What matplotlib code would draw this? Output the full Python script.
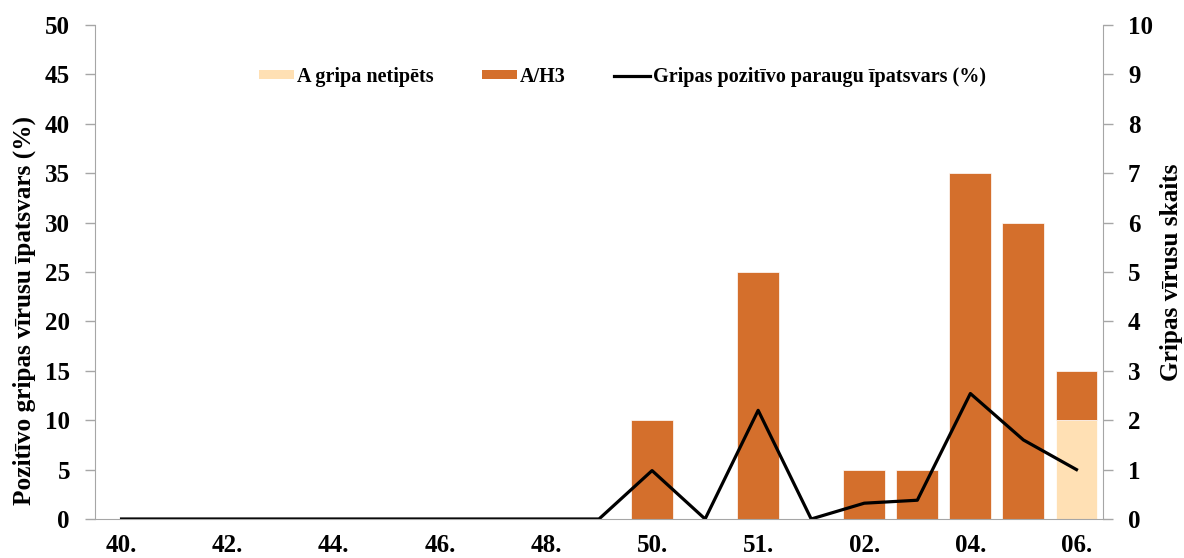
import matplotlib
matplotlib.use("Agg")
import matplotlib.pyplot as plt
import numpy as np
from matplotlib.patches import Patch
from matplotlib.lines import Line2D

weeks = ["40.", "41.", "42.", "43.", "44.", "45.", "46.", "47.", "48.", "49.",
         "50.", "50.", "51.", "01.", "02.", "03.", "04.", "05.", "06."]
a_untyped = [0, 0, 0, 0, 0, 0, 0, 0, 0, 0, 0, 0, 0, 0, 0, 0, 0, 0, 2]
a_h3 = [0, 0, 0, 0, 0, 0, 0, 0, 0, 0, 2, 0, 5, 0, 1, 1, 7, 6, 1]
pos_share = [0, 0, 0, 0, 0, 0, 0, 0, 0, 0, 4.9, 0, 11.0, 0, 1.6, 1.9, 12.7, 8.0, 5.0]

plt.rcParams['font.family'] = ['Liberation Serif', 'DejaVu Serif']
plt.rcParams['font.weight'] = 'bold'

fig = plt.figure(figsize=(11.84, 5.58), dpi=100)
ax = fig.add_axes([95/1184, 39/558, (1103-95)/1184, (519-25)/558])
ax2 = ax.twinx()

x = np.arange(len(weeks))
c_light = "#FFE0B4"
c_orange = "#D46F2C"
ax2.bar(x, a_untyped, width=0.79, color=c_light, edgecolor="white", linewidth=0.5)
ax2.bar(x, a_h3, width=0.79, bottom=a_untyped, color=c_orange, edgecolor="white", linewidth=0.5)

ax.set_zorder(ax2.get_zorder() + 1)
ax.patch.set_visible(False)
ax.plot(x, pos_share, color="black", linewidth=2.3)

ax.set_xlim(-0.5, len(weeks) - 0.5)
ax.set_ylim(0, 50)
ax2.set_ylim(0, 10)
ax.set_yticks(np.arange(0, 51, 5))
ax2.set_yticks(np.arange(0, 11, 1))
ax.set_xticks(x[::2])
ax.set_xticklabels(weeks[::2])

grey = "#A6A6A6"
for a in (ax, ax2):
    for s in a.spines.values():
        s.set_color(grey)
    a.spines['top'].set_visible(False)
ax.spines['right'].set_visible(False)
ax2.spines['left'].set_visible(False)
ax2.spines['bottom'].set_visible(False)

ax.tick_params(axis='y', labelsize=18, color=grey, length=7, width=1, pad=11)
ax.tick_params(axis='x', labelsize=18, length=0, pad=11)
ax2.tick_params(axis='y', labelsize=18, color=grey, length=7, width=1, pad=11)

ax.set_ylabel("Pozitīvo gripas vīrusu īpatsvars (%)", fontsize=18.2, fontweight='bold')
ax.yaxis.set_label_coords(-0.059, 0.423)
ax2.set_ylabel("Gripas vīrusu skaits", fontsize=18.2, fontweight='bold')
ax2.yaxis.set_label_coords(1.0565, 0.5)

handles = [Patch(facecolor=c_light, edgecolor='none'),
           Patch(facecolor=c_orange, edgecolor='none'),
           Line2D([0], [0], color='black', linewidth=2.3)]
labels = ["A gripa netipēts", "A/H3", "Gripas pozitīvo paraugu īpatsvars (%)"]
ax.legend(handles, labels, ncol=3, frameon=False, fontsize=14.5,
          loc='center', bbox_to_anchor=(0.523, 0.895), columnspacing=2.4,
          handlelength=1.75, handleheight=0.35, handletextpad=0.15)

fig.savefig("out.png", dpi=100)
